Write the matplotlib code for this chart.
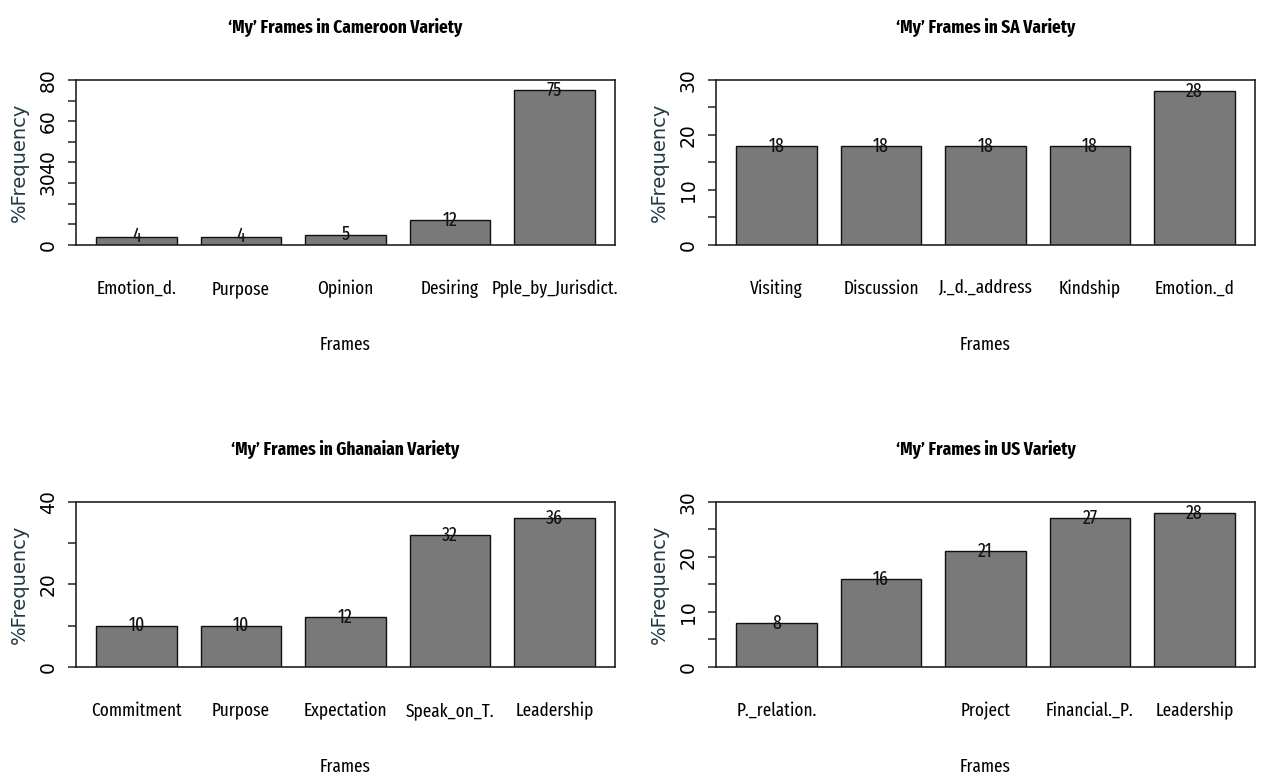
import matplotlib
matplotlib.use('Agg')
import matplotlib.pyplot as plt
from matplotlib import font_manager
import numpy as np

# ---------------------------------------------------------------- data

cam_frames = ['Emotion_d.', 'Purpose', 'Opinion', 'Desiring', 'Pple_by_Jurisdict.']
cam_values = [4, 4, 5, 12, 75]
cam_ticks = [0, 10, 20, 30, 40, 50, 60, 70, 80]
cam_ticklabels = ['0', '', '', '30', '40', '', '60', '', '80']

sa_frames = ['Visiting', 'Discussion', 'J._d._address', 'Kindship', 'Emotion._d']
sa_values = [18, 18, 18, 18, 28]
sa_ticks = [0, 5, 10, 15, 20, 25, 30]
sa_ticklabels = ['0', '', '10', '', '20', '', '30']

gh_frames = ['Commitment', 'Purpose', 'Expectation', 'Speak_on_T.', 'Leadership']
gh_values = [10, 10, 12, 32, 36]
gh_ticks = [0, 10, 20, 30, 40]
gh_ticklabels = ['0', '', '20', '', '40']

us_frames = ['P._relation.', '', 'Project', 'Financial._P.', 'Leadership']
us_values = [8, 16, 21, 27, 28]
us_ticks = [0, 5, 10, 15, 20, 25, 30]
us_ticklabels = ['0', '', '10', '', '20', '', '30']

# ---------------------------------------------------------------- fonts

names = set(f.name for f in font_manager.fontManager.ttflist)
narrow = 'Liberation Sans'
for cand in ['Fira Sans Extra Condensed', 'Barlow Condensed', 'Roboto Condensed', 'Liberation Sans Narrow']:
	if cand in names:
		narrow = cand
		break

bar_col = '#797979'
ax_col = '#222222'
lab_col = '#1f3a44'


def panel(ax, title, frames, values, ticks, ticklabels):
	x = np.arange(len(values))
	ax.bar(x, values, width=0.77, color=bar_col, edgecolor='#111111', linewidth=1.0)

	# value on top of every bar
	for i in range(len(values)):
		ax.text(x[i], values[i], str(values[i]), ha='center', va='center',
				fontsize=14, family=narrow, color='#111111')

	ax.set_xlim(-0.58, len(values) - 1 + 0.58)
	ax.set_ylim(ticks[0], ticks[-1])

	ax.set_xticks(x)
	ax.set_xticklabels(frames, family=narrow, fontsize=13.5)
	ax.tick_params(axis='x', length=0, pad=25)

	ax.set_yticks(ticks)
	ax.set_yticklabels(ticklabels, family='DejaVu Sans', fontsize=13.5, rotation=90, va='center')
	ax.tick_params(axis='y', length=6, width=1.1, color=ax_col, pad=7)

	for s in ax.spines.values():
		s.set_linewidth(1.2)
		s.set_color(ax_col)

	ax.set_title(title, family=narrow, fontweight='bold', fontsize=13.5, pad=34)
	ax.set_xlabel('Frames', family=narrow, fontsize=13.5)
	ax.xaxis.set_label_coords(0.5, -0.55)
	ax.set_ylabel('%Frequency', family='DejaVu Sans', fontsize=14, color=lab_col)
	ax.yaxis.set_label_coords(-0.088, 0.5)


fig = plt.figure(figsize=(12.61, 7.78), dpi=100)

a1 = fig.add_axes([0.0603, 0.6851, 0.4274, 0.2121])
panel(a1, '\u2018My\u2019 Frames in Cameroon Variety', cam_frames, cam_values, cam_ticks, cam_ticklabels)

a2 = fig.add_axes([0.5678, 0.6851, 0.4274, 0.2121])
panel(a2, '\u2018My\u2019 Frames in SA Variety', sa_frames, sa_values, sa_ticks, sa_ticklabels)

a3 = fig.add_axes([0.0603, 0.1427, 0.4274, 0.2121])
panel(a3, '\u2018My\u2019 Frames in Ghanaian Variety', gh_frames, gh_values, gh_ticks, gh_ticklabels)

a4 = fig.add_axes([0.5678, 0.1427, 0.4274, 0.2121])
panel(a4, '\u2018My\u2019 Frames in US Variety', us_frames, us_values, us_ticks, us_ticklabels)

fig.savefig('out.png', dpi=100)
